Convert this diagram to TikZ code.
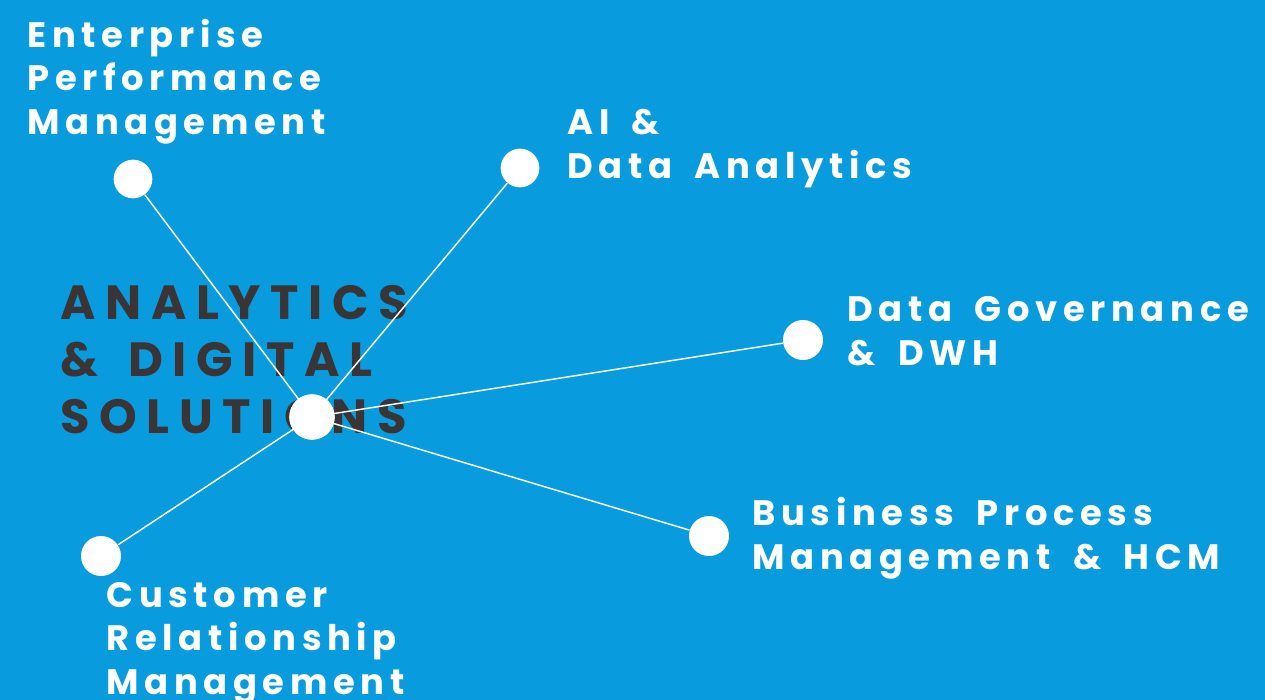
\documentclass[tikz,border=0pt]{standalone}
\usepackage{fontspec}
\newfontfamily\lblfont[LetterSpace=16,WordSpace=1.7]{Poppins}
\newfontfamily\bigfont[LetterSpace=20,WordSpace=1.5]{Poppins}
\definecolor{bgblue}{RGB}{8,155,222}
\definecolor{darktext}{RGB}{58,52,52}
\tikzset{every picture/.style={line width=0.75pt}}
\tikzset{
  dot/.style={circle, fill=white, draw=none, inner sep=0pt, minimum size=#1},
  dot/.default=29,
  spoke/.style={white, line width=1.1pt},
  lbl/.style={anchor=base west, inner sep=0pt, align=left, text=white,
    font=\lblfont\bfseries\fontsize{26.5}{32.3}\selectfont},
}

\begin{document}
\begin{tikzpicture}[x=0.75pt,y=0.75pt,yscale=-1,xscale=1]
%background
\fill [bgblue] (0,0) rectangle (1265,700);
\useasboundingbox (0,0) rectangle (1265,700);

%title
\node [anchor=base west, inner sep=0pt, align=left, text=darktext,
  font=\bigfont\bfseries\fontsize{36}{42.6}\selectfont] (title) at (60,433)
  {ANALYTICS\\\& DIGITAL\\SOLUTIONS};

%dots
\node [dot=34] (hub) at (312,417) {};
\node [dot] (epm) at (133,179) {};
\node [dot] (ai) at (520,168) {};
\node [dot=30] (dg) at (803,340) {};
\node [dot=30] (bpm) at (709,536) {};
\node [dot=30] (crm) at (101,556) {};

%spokes
\draw [spoke] (hub.center) -- (epm);
\draw [spoke] (hub.center) -- (ai);
\draw [spoke] (hub.center) -- (dg);
\draw [spoke] (hub.center) -- (bpm);
\draw [spoke] (hub.center) -- (crm);
\node [dot=34] at (hub) {};

%labels
\node [lbl] (epmtext) at (27,134) {Enterprise\\Performance\\Management};
\node [lbl] (aitext) at (567,178) {AI \&\\Data Analytics};
\node [lbl] (dgtext) at (847,365) {Data Governance\\\& DWH};
\node [lbl] (bpmtext) at (752,569) {Business Process\\Management \& HCM};
\node [lbl] (crmtext) at (106,694) {Customer\\Relationship\\Management};

\end{tikzpicture}
\end{document}
